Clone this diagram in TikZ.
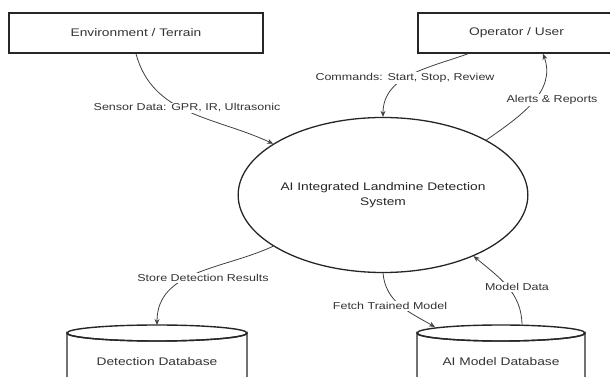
\documentclass[tikz,border=0pt]{standalone}
\usepackage{fontspec}
\setmainfont{Liberation Sans}
\usepackage{graphicx}
\usetikzlibrary{arrows.meta,shapes.geometric}
\newcommand\wt[1]{\scalebox{1.25}[1]{#1}}
\begin{document}
\begin{tikzpicture}[x=1pt,y=1pt,
  box/.style={draw=black!85, line width=1.5pt, minimum height=40pt, inner sep=0pt,
    font=\fontsize{11}{15}\selectfont, text=black!80},
  proc/.style={ellipse, draw=black!85, line width=1.3pt, minimum width=250pt,
    minimum height=155pt, inner sep=0pt, align=center,
    font=\fontsize{11}{15}\selectfont, text=black!85},
  dbline/.style={draw=black!85, line width=1.4pt},
  dbtxt/.style={inner sep=0pt, font=\fontsize{11}{15}\selectfont, text=black!80},
  flow/.style={draw=black!75, line width=0.8pt, -{Stealth[length=6pt,width=5pt]}},
  lbl/.style={fill=white, inner sep=1pt, font=\fontsize{10}{12}\selectfont, text=black!80}]
\useasboundingbox (0,0) rectangle (610,377);
\clip (0,0) rectangle (610,377);
% external entities
\node[box, minimum width=254pt] (env) at (136,344) {\wt{Environment / Terrain}};
\node[box, minimum width=197pt] (op) at (516.5,344) {\wt{Operator / User}};
% process
\node[proc] (sys) at (383,182) {\wt{AI Integrated Landmine Detection}\\\wt{System}};
% data stores
\draw[dbline, fill=white] (67,-10) -- (67,44) arc[start angle=180, end angle=360, x radius=90, y radius=8] -- (247,-10);
\draw[dbline] (157,44) ellipse [x radius=90, y radius=8];
\node[dbtxt] (ddb) at (157,15) {\wt{Detection Database}};
\coordinate (ddbtop) at (157,52);
\draw[dbline, fill=white] (417,-10) -- (417,44) arc[start angle=180, end angle=360, x radius=84, y radius=8] -- (585,-10);
\draw[dbline] (501,44) ellipse [x radius=84, y radius=8];
\node[dbtxt] (adb) at (501,15) {\wt{AI Model Database}};
\coordinate (adbin) at (435,50);
\coordinate (adbout) at (522,51.5);
% flows
\draw[flow] (env.south) to[out=-75, in=155] (sys.155);
\draw[flow] ([xshift=-48.5pt]op.south) to[out=200, in=90] (sys.90);
\draw[flow] (sys.28) to[out=35, in=-70] ([xshift=26.5pt]op.south);
\draw[flow] (sys.205) to[out=205, in=90] (ddbtop);
\draw[flow] (sys.270) to[out=-85, in=150] (adbin);
\draw[flow] (adbout) to[out=90, in=-40] (sys.-34);
% labels
\node[lbl] (l1) at (187,269) {\wt{Sensor Data: GPR, IR, Ultrasonic}};
\node[lbl] (l2) at (405,299) {\wt{Commands: Start, Stop, Review}};
\node[lbl] (l3) at (552,277) {\wt{Alerts \& Reports}};
\node[lbl] (l4) at (203,99) {\wt{Store Detection Results}};
\node[lbl] (l5) at (390,71) {\wt{Fetch Trained Model}};
\node[lbl] (l6) at (517,90) {\wt{Model Data}};
\end{tikzpicture}
\end{document}
